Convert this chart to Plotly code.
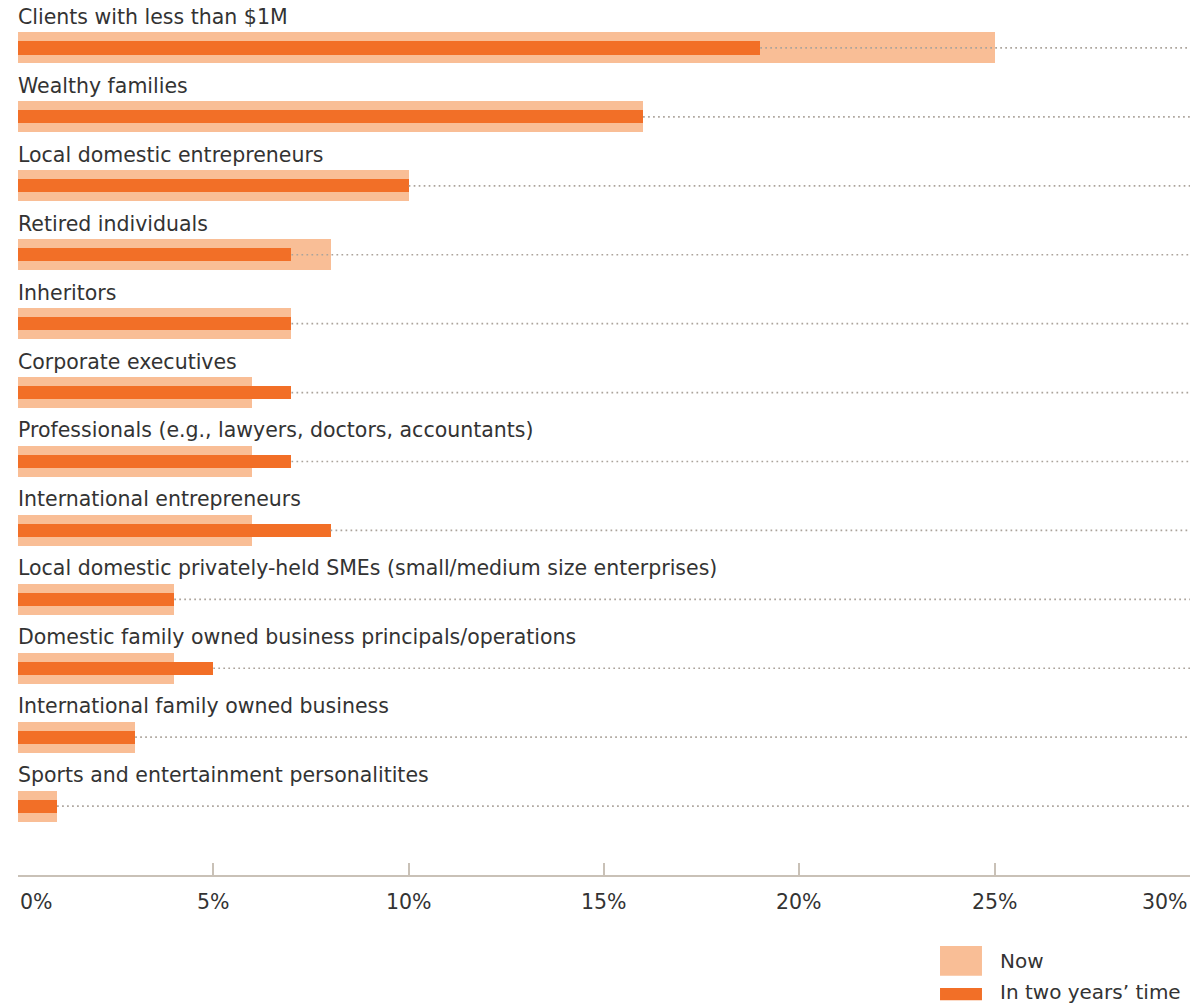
import plotly.graph_objects as go

categories = [
    "Clients with less than $1M",
    "Wealthy families",
    "Local domestic entrepreneurs",
    "Retired individuals",
    "Inheritors",
    "Corporate executives",
    "Professionals (e.g., lawyers, doctors, accountants)",
    "International entrepreneurs",
    "Local domestic privately-held SMEs (small/medium size enterprises)",
    "Domestic family owned business principals/operations",
    "International family owned business",
    "Sports and entertainment personalitites",
]
now_values = [25, 16, 10, 8, 7, 6, 6, 6, 4, 4, 3, 1]
future_values = [19, 16, 10, 7, 7, 7, 7, 8, 4, 5, 3, 1]
tick_values = [0, 5, 10, 15, 20, 25, 30]
tick_labels = ["0%", "5%", "10%", "15%", "20%", "25%", "30%"]
series_names = ["Now", "In two years\u2019 time"]

LIGHT = "#F9BE96"
DARK = "#F26F27"
AXIS = "#C9C1B7"
DOT = "#ABA39B"
TEXT = "#333333"
FONT = "DejaVu Sans, Verdana, sans-serif"
XMAX = tick_values[-1]

fig = go.Figure()

fig.add_trace(go.Bar(
    x=now_values, y=categories, orientation="h", name=series_names[0],
    marker=dict(color=LIGHT, line=dict(width=0)), width=0.45, showlegend=False,
))

# dotted leader lines from end of the "two years" bar to the right edge
lx, ly = [], []
for c, f in zip(categories, future_values):
    lx += [f, XMAX, None]
    ly += [c, c, None]
fig.add_trace(go.Scatter(
    x=lx, y=ly, mode="lines", line=dict(color=DOT, width=1.7, dash="1.7px,3.3px"),
    showlegend=False, hoverinfo="skip",
))

fig.add_trace(go.Bar(
    x=future_values, y=categories, orientation="h", name=series_names[1],
    marker=dict(color=DARK, line=dict(width=0)), width=0.19, showlegend=False,
))

annotations = []
for c in categories:
    annotations.append(dict(
        x=0, y=c, xref="x", yref="y", text=c, showarrow=False,
        xanchor="left", yanchor="middle", yshift=31, xshift=-2,
        font=dict(family=FONT, size=20.5, color=TEXT),
    ))

for v, t in zip(tick_values, tick_labels):
    anchor = "center"
    if v == tick_values[0]:
        anchor = "left"
    elif v == tick_values[-1]:
        anchor = "right"
    annotations.append(dict(
        x=v, y=0, xref="x", yref="paper", text=t, showarrow=False,
        xanchor=anchor, yanchor="middle", yshift=-27,
        font=dict(family=FONT, size=20.5, color=TEXT),
    ))

# legend (manual, bottom right)
shapes = [
    dict(type="rect", xref="paper", yref="paper", x0=0.7867, x1=0.8225,
         y0=-0.081, y1=-0.115, fillcolor=LIGHT, line=dict(width=0)),
    dict(type="rect", xref="paper", yref="paper", x0=0.7867, x1=0.8225,
         y0=-0.129, y1=-0.143, fillcolor=DARK, line=dict(width=0)),
]
annotations.append(dict(
    x=0.836, y=-0.098, xref="paper", yref="paper", text=series_names[0],
    showarrow=False, xanchor="left", yanchor="middle",
    font=dict(family=FONT, size=20, color=TEXT)))
annotations.append(dict(
    x=0.836, y=-0.134, xref="paper", yref="paper", text=series_names[1],
    showarrow=False, xanchor="left", yanchor="middle",
    font=dict(family=FONT, size=20, color=TEXT)))

fig.update_layout(
    width=1192, height=1003,
    margin=dict(l=18, r=2, t=0, b=128),
    paper_bgcolor="white", plot_bgcolor="white",
    barmode="overlay", bargap=0,
    annotations=annotations, shapes=shapes,
    showlegend=False,
    xaxis=dict(
        range=[0, XMAX], tickvals=tick_values, showticklabels=False,
        ticks="inside", ticklen=12, tickwidth=2, tickcolor=AXIS,
        showline=True, linecolor=AXIS, linewidth=2,
        showgrid=False, zeroline=False, fixedrange=True,
    ),
    yaxis=dict(
        type="category", categoryarray=categories,
        range=[12.0, -0.696], autorange=False,
        showticklabels=False, showgrid=False, zeroline=False,
        showline=False, ticks="", fixedrange=True,
    ),
)

fig.write_html("out.html")
